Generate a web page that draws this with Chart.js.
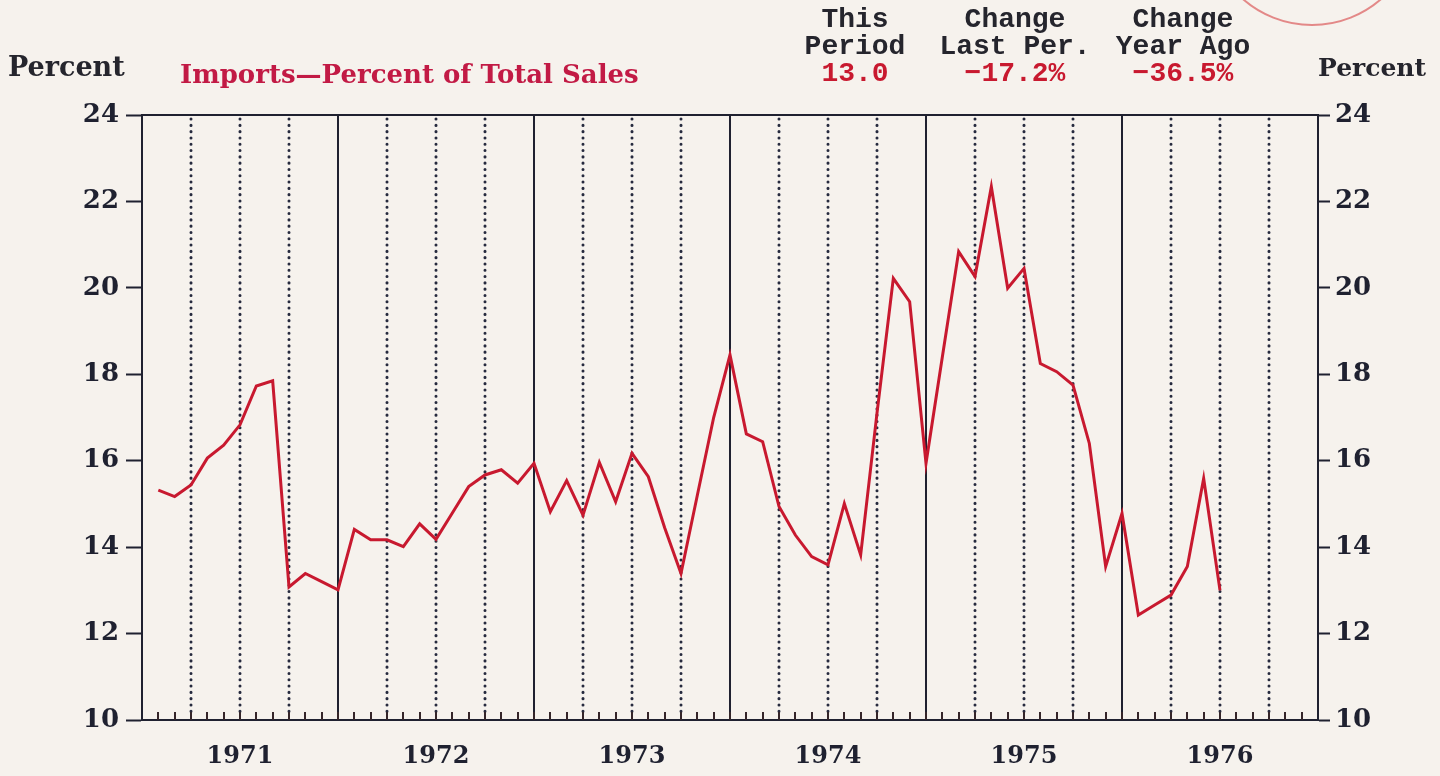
<!DOCTYPE html>
<html>
<head>
<meta charset="utf-8">
<script src="https://cdn.jsdelivr.net/npm/chart.js@4.4.1/dist/chart.umd.min.js"></script>
<style>
    body { margin: 0; background: #f6f2ed; }
    #wrap { position: relative; width: 1440px; height: 776px; overflow: hidden; }
    #chart { position: absolute; left: 0; top: 0; }
    .lbl { position: absolute; white-space: nowrap; font-family: 'DejaVu Serif', serif; font-weight: bold; }
    .mono { position: absolute; width: 220px; text-align: center; font-family: 'Liberation Mono', monospace;
            font-weight: bold; font-size: 28px; line-height: 27px; color: #25252d; }
    .mono .val { color: #c8192f; }
</style>
</head>
<body>
<div id="wrap">
    <canvas id="chart" width="1440" height="776"></canvas>
    <div class="lbl" style="left:8px; top:51px; font-size:27px; color:#25252d;">Percent</div>
    <div class="lbl" style="left:180px; top:59px; font-size:26px; color:#c21a45;">Imports—Percent of Total Sales</div>
    <div class="mono" style="left:745px; top:6px;">This<br>Period<br><span class="val">13.0</span></div>
    <div class="mono" style="left:905px; top:6px;">Change<br>Last Per.<br><span class="val">−17.2%</span></div>
    <div class="mono" style="left:1073px; top:6px;">Change<br>Year Ago<br><span class="val">−36.5%</span></div>
    <div class="lbl" style="left:1318px; top:53px; font-size:25px; color:#25252d;">Percent</div>
</div>
<script>
    // Imports as percent of total sales, one value per month (Jan 1971 .. Jun 1976)
    const imports = [
        15.32, 15.17, 15.44, 16.06, 16.36, 16.83, 17.73, 17.85, 13.08, 13.39, 13.20, 13.01,
        14.41, 14.17, 14.17, 14.01, 14.54, 14.18, 14.79, 15.40, 15.67, 15.79, 15.48, 15.94,
        14.82, 15.54, 14.74, 15.96, 15.05, 16.17, 15.63, 14.45, 13.39, 15.20, 17.00, 18.45,
        16.62, 16.44, 14.94, 14.28, 13.78, 13.59, 15.01, 13.82, 17.10, 20.22, 19.68, 15.94,
        18.40, 20.84, 20.26, 22.34, 19.99, 20.45, 18.25, 18.06, 17.75, 16.40, 13.55, 14.78,
        12.43, 12.66, 12.89, 13.55, 15.59, 13.00
    ];
    const yearLabels = ['1971', '1972', '1973', '1974', '1975', '1976'];
    const yTicks = [10, 12, 14, 16, 18, 20, 22, 24];

    const ink = '#1f2130';
    const red = '#c8192f';

    // month-end positions on a linear month axis (0 = start of 1971)
    const points = imports.map((v, i) => ({ x: i + 1, y: v }));

    const gridPlugin = {
        id: 'gridPlugin',
        beforeDatasetsDraw(chart) {
            const ctx = chart.ctx;
            const area = chart.chartArea;
            const xs = chart.scales.x;
            ctx.save();
            for (let m = 1; m < 72; m++) {
                const px = Math.round(xs.getPixelForValue(m));
                if (m % 12 === 0) {
                    ctx.strokeStyle = ink;
                    ctx.lineWidth = 2;
                    ctx.setLineDash([]);
                    ctx.beginPath();
                    ctx.moveTo(px, area.top);
                    ctx.lineTo(px, area.bottom);
                    ctx.stroke();
                } else if (m % 3 === 0) {
                    ctx.strokeStyle = '#262a3e';
                    ctx.lineWidth = 3;
                    ctx.lineCap = 'round';
                    ctx.setLineDash([0.1, 6.2]);
                    ctx.beginPath();
                    ctx.moveTo(px, area.top + 4);
                    ctx.lineTo(px, area.bottom - 6);
                    ctx.stroke();
                    ctx.lineCap = 'butt';
                }
                // small month tick rising from the bottom axis
                ctx.setLineDash([]);
                ctx.strokeStyle = '#35262a';
                ctx.lineWidth = 2;
                ctx.beginPath();
                ctx.moveTo(px, area.bottom);
                ctx.lineTo(px, area.bottom - 8);
                ctx.stroke();
            }
            // top frame line
            ctx.strokeStyle = ink;
            ctx.lineWidth = 2;
            ctx.beginPath();
            ctx.moveTo(area.left, area.top);
            ctx.lineTo(area.right, area.top);
            ctx.stroke();
            ctx.restore();
        },
        afterDraw(chart) {
            // faint stamp mark in the upper right corner
            const ctx = chart.ctx;
            ctx.save();
            ctx.strokeStyle = 'rgba(222, 110, 110, 0.8)';
            ctx.lineWidth = 2;
            ctx.beginPath();
            ctx.arc(1312, -80, 105, 0, Math.PI);
            ctx.stroke();
            ctx.restore();
        }
    };

    const yFont = { family: "'DejaVu Serif', serif", size: 26, weight: 'bold' };
    const xFont = { family: "'DejaVu Serif', serif", size: 24, weight: 'bold' };

    new Chart(document.getElementById('chart'), {
        type: 'line',
        data: {
            datasets: [{
                label: 'Imports—Percent of Total Sales',
                data: points,
                borderColor: red,
                borderWidth: 3,
                pointRadius: 0,
                tension: 0,
                fill: false
            }]
        },
        options: {
            responsive: false,
            animation: false,
            layout: { padding: { top: 115, left: 0, right: 0, bottom: 0 } },
            plugins: {
                legend: { display: false },
                tooltip: { enabled: false }
            },
            scales: {
                x: {
                    type: 'linear',
                    min: 0,
                    max: 72,
                    afterBuildTicks: function(scale) {
                        scale.ticks = yearLabels.map((_, i) => ({ value: i * 12 + 6 }));
                    },
                    afterFit: function(scale) { scale.height = 56; },
                    ticks: {
                        autoSkip: false,
                        maxRotation: 0,
                        padding: 22,
                        color: ink,
                        font: xFont,
                        callback: function(value) {
                            return yearLabels[Math.floor(value / 12)];
                        }
                    },
                    grid: { display: false, drawTicks: false },
                    border: { display: true, color: ink, width: 2 }
                },
                y: {
                    position: 'left',
                    min: 10,
                    max: 24,
                    afterBuildTicks: function(scale) {
                        scale.ticks = yTicks.map(v => ({ value: v }));
                    },
                    afterFit: function(scale) { scale.width = 142; },
                    ticks: { padding: 7, color: ink, font: yFont },
                    grid: { drawOnChartArea: false, tickLength: 16, tickWidth: 2, tickColor: ink },
                    border: { display: true, color: ink, width: 2 }
                },
                y2: {
                    position: 'right',
                    min: 10,
                    max: 24,
                    afterBuildTicks: function(scale) {
                        scale.ticks = yTicks.map(v => ({ value: v }));
                    },
                    afterFit: function(scale) { scale.width = 122; },
                    ticks: { padding: 5, color: ink, font: yFont },
                    grid: { drawOnChartArea: false, tickLength: 12, tickWidth: 2, tickColor: ink },
                    border: { display: true, color: ink, width: 2 }
                }
            }
        },
        plugins: [gridPlugin]
    });
</script>
</body>
</html>
